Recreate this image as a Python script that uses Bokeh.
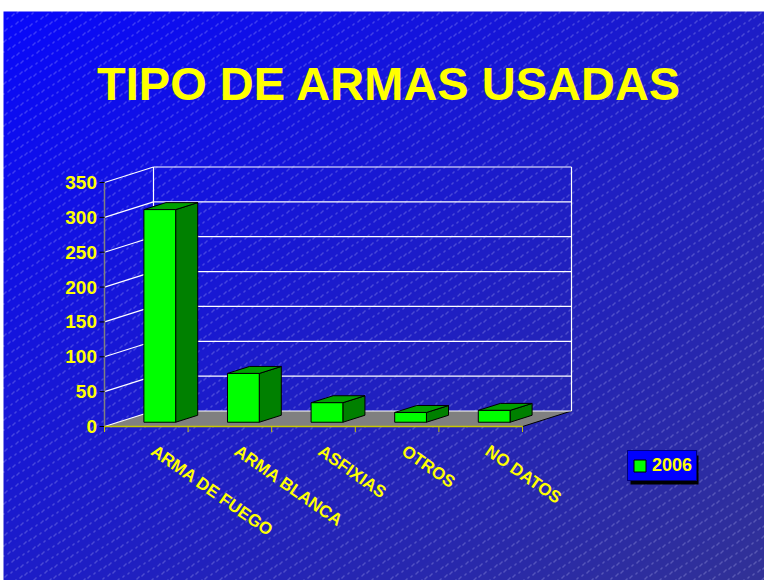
import numpy as np
from bokeh.plotting import figure
from bokeh.models import Range1d, ColumnDataSource, Legend, LegendItem
from bokeh.core.properties import value
from bokeh.embed import file_html
from bokeh.resources import INLINE

# ---------------- data ----------------
title_text = "TIPO DE ARMAS USADAS"
categories = ["ARMA DE FUEGO", "ARMA BLANCA", "ASFIXIAS", "OTROS", "NO DATOS"]
series_name = "2006"
values_2006 = [305, 70, 28, 14, 17]
y_ticks = [0, 50, 100, 150, 200, 250, 300, 350]
y_tick_labels = [str(v) for v in y_ticks]

# ---------------- geometry (pixels -> data) ----------------
W, H = 764, 580
PX_X = 83.6            # pixels per category
PX_Y = 244.0 / 350.0   # pixels per value unit
X0, Y0 = 104, 426      # frame pixel of data origin

x_start, x_end = -X0 / PX_X, (W - X0) / PX_X
y_end, y_start = Y0 / PX_Y, -(H - Y0) / PX_Y


def fx(px):
    return (px - X0) / PX_X


def fy(py):
    return (Y0 - py) / PX_Y


DX = 49.0 / PX_X
DY = 15.5 / PX_Y
N = len(categories)
YMAX = y_ticks[-1]
FONT = value("Liberation Sans")

p = figure(width=W, height=H, output_backend="svg", toolbar_location=None,
           x_range=Range1d(x_start, x_end), y_range=Range1d(y_start, y_end),
           x_axis_type=None, y_axis_type=None, min_border=0)
p.outline_line_color = None
p.background_fill_color = "white"
p.border_fill_color = "white"
p.title.visible = False

# ---------------- background gradient with diagonal dotted lines ----------------
yy, xx = np.mgrid[0:H, 0:W]
X = xx.astype(float)
Y = yy.astype(float)
t = np.clip((X / 764.0 + Y / 580.0) / 2.0, 0, 1)
r = 8 + (50 - 8) * t
g = 8 + (50 - 8) * t
b = 252 - (252 - 150) * t
vv = (Y + 0.62 * X) % 10.5
mask = (vv < 1.0) & (((xx + yy) % 2) == 0)
a = 0.5
r = np.where(mask, r * (1 - a) + 205 * a, r)
g = np.where(mask, g * (1 - a) + 205 * a, g)
b = np.where(mask, b * (1 - a) + 255 * a, b)
white = (Y < 11) | (X < 3)
r = np.where(white, 255, r)
g = np.where(white, 255, g)
b = np.where(white, 255, b)
img = np.empty((H, W), dtype=np.uint32)
view = img.view(dtype=np.uint8).reshape((H, W, 4))
view[:, :, 0] = r.astype(np.uint8)
view[:, :, 1] = g.astype(np.uint8)
view[:, :, 2] = b.astype(np.uint8)
view[:, :, 3] = 255
img = img[::-1]
p.image_rgba(image=[img], x=x_start, y=y_start, dw=x_end - x_start, dh=y_end - y_start)

# ---------------- floor ----------------
p.patch([0, N, N + DX, DX], [0, 0, DY, DY], fill_color="#808080", line_color=None)
p.line([N, N + DX], [0, DY], line_color="black", line_width=1)

# ---------------- walls / gridlines ----------------
p.segment(x0=[DX] * len(y_ticks), y0=[v + DY for v in y_ticks],
          x1=[N + DX] * len(y_ticks), y1=[v + DY for v in y_ticks],
          line_color="white", line_width=1.2)
p.segment(x0=[0] * len(y_ticks), y0=y_ticks,
          x1=[DX] * len(y_ticks), y1=[v + DY for v in y_ticks],
          line_color="white", line_width=1.2)
p.segment(x0=[DX, N + DX], y0=[DY, DY], x1=[DX, N + DX], y1=[YMAX + DY, YMAX + DY],
          line_color="white", line_width=1.2)

# ---------------- value axis ----------------
p.line([0, 0], [0, YMAX], line_color="#808080", line_width=1.5)
p.segment(x0=[-5 / PX_X] * len(y_ticks), y0=y_ticks, x1=[0] * len(y_ticks), y1=y_ticks,
          line_color="black", line_width=1)
p.text(x=[-7.5 / PX_X] * len(y_ticks), y=y_ticks, text=y_tick_labels,
       text_align="right", text_baseline="middle", text_color="#ffff00",
       text_font=FONT, text_font_style="bold", text_font_size=value("19px"))

# ---------------- category axis ----------------
p.line([0, N], [0, 0], line_color="#c8c800", line_width=1.5)
p.segment(x0=list(range(N + 1)), y0=[0] * (N + 1), x1=list(range(N + 1)),
          y1=[-5.5 / PX_Y] * (N + 1), line_color="#c8c800", line_width=1)
p.text(x=[i + 0.5 + 12 / PX_X for i in range(N)], y=[-15 / PX_Y] * N, text=categories,
       angle=-35, angle_units="deg", text_align="left", text_baseline="top",
       text_color="#ffff00", text_font=FONT, text_font_style="bold",
       text_font_size=value("17px"))

# ---------------- 3D bars ----------------
BAR_W = 0.38
F0, F1 = 0.275, 0.725
ddx, ddy = (F1 - F0) * DX, (F1 - F0) * DY
xl = [i + 0.5 - BAR_W / 2 + F0 * DX for i in range(N)]
xr = [v + BAR_W for v in xl]
yb = [F0 * DY] * N
yt = [F0 * DY + v for v in values_2006]

side = ColumnDataSource(dict(
    xs=[[r_, r_ + ddx, r_ + ddx, r_] for r_ in xr],
    ys=[[b_, b_ + ddy, t_ + ddy, t_] for b_, t_ in zip(yb, yt)]))
top = ColumnDataSource(dict(
    xs=[[l_, r_, r_ + ddx, l_ + ddx] for l_, r_ in zip(xl, xr)],
    ys=[[t_, t_, t_ + ddy, t_ + ddy] for t_ in yt]))
p.patches("xs", "ys", source=side, fill_color="#008000", line_color="black", line_width=1)
p.patches("xs", "ys", source=top, fill_color="#00a000", line_color="black", line_width=1)
front_r = p.quad(left=xl, right=xr, bottom=yb, top=yt, fill_color="#00ff00",
                 line_color="black", line_width=1)

# ---------------- title ----------------
p.text(x=[fx(389)], y=[fy(83)], text=[title_text], text_align="center",
       text_baseline="middle", text_color="#ffff00", text_font=FONT,
       text_font_style="bold", text_font_size=value("47px"))

# ---------------- legend ----------------
p.quad(left=[fx(630)], right=[fx(698)], top=[fy(455)], bottom=[fy(484)],
       fill_color="black", line_color=None)
legend = Legend(items=[LegendItem(label=series_name, renderers=[front_r])],
                location=(627, 99), padding=4, spacing=0, margin=0,
                glyph_width=15, glyph_height=15, label_standoff=5,
                background_fill_color="#0000ff", background_fill_alpha=1.0,
                border_line_color="black", border_line_width=1,
                label_text_color="#ffff00", label_text_font="Liberation Sans",
                label_text_font_style="bold", label_text_font_size="18px")
p.add_layout(legend)

open("out.html", "w").write(file_html(p, INLINE))
